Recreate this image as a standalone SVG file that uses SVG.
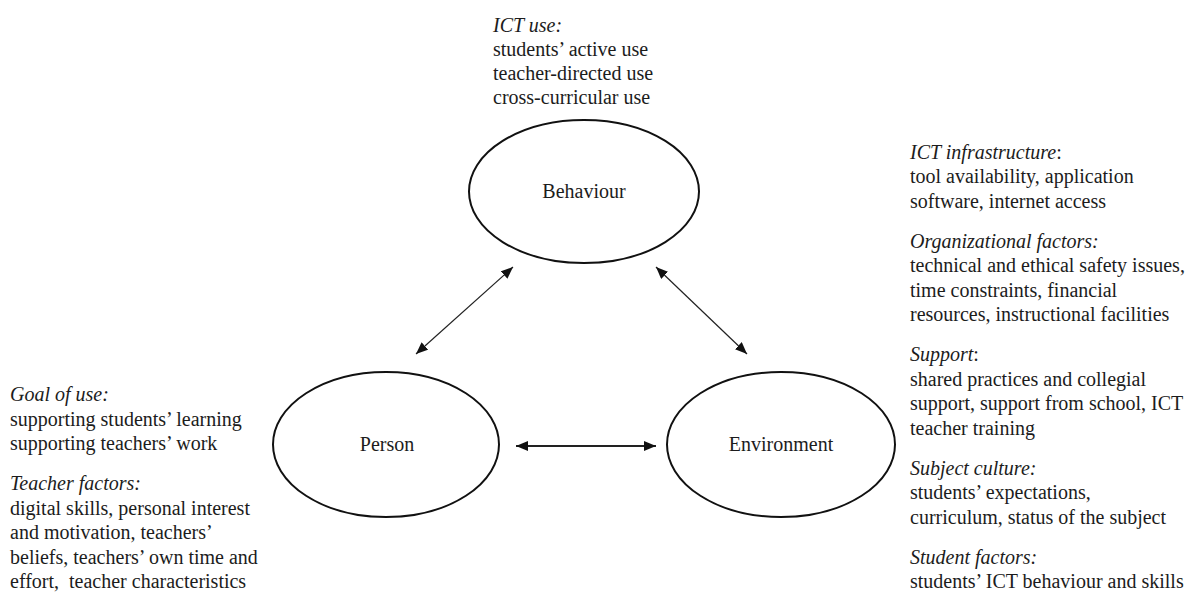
<svg xmlns="http://www.w3.org/2000/svg" width="1189" height="599" viewBox="0 0 1189 599">
  <defs>
    <marker id="ah" viewBox="0 0 12 10" refX="12" refY="5" markerWidth="12" markerHeight="10" markerUnits="userSpaceOnUse" orient="auto-start-reverse">
      <path d="M0,0 L12,5 L0,10 z" fill="#111"/>
    </marker>
    <style>
      text { font-family: "Liberation Serif", "Times New Roman", serif; font-size: 20px; fill: #1c1c1c; }
      .it { font-style: italic; }
      .node ellipse { fill: none; stroke: #111; stroke-width: 2; }
      .lbl { text-anchor: middle; }
      .conn line { stroke: #222; stroke-width: 1.2; marker-start: url(#ah); marker-end: url(#ah); }
    </style>
  </defs>
  <rect width="1189" height="599" fill="#ffffff"/>

  <g id="behaviour" class="node">
    <ellipse cx="584" cy="191.5" rx="115" ry="71.5"/>
    <text class="lbl" x="584" y="198">Behaviour</text>
  </g>
  <g id="person" class="node">
    <ellipse cx="386" cy="444.5" rx="113" ry="72.5"/>
    <text class="lbl" x="387" y="451">Person</text>
  </g>
  <g id="environment" class="node">
    <ellipse cx="781" cy="444.5" rx="114" ry="72.5"/>
    <text class="lbl" x="781" y="451">Environment</text>
  </g>

  <g id="connectors" class="conn">
    <line x1="416" y1="354" x2="513" y2="267"/>
    <line x1="656" y1="267" x2="747" y2="354"/>
    <line x1="516" y1="446" x2="656" y2="446" style="stroke-width:1.8"/>
  </g>

  <g id="ict-use">
    <text class="it" x="493" y="32">ICT use:</text>
    <text x="493" y="56">students’ active use</text>
    <text x="493" y="80">teacher-directed use</text>
    <text x="493" y="104">cross-curricular use</text>
  </g>

  <g id="person-factors">
    <text class="it" x="10" y="401">Goal of use:</text>
    <text x="10" y="425.5">supporting students’ learning</text>
    <text x="10" y="450">supporting teachers’ work</text>
    <text class="it" x="10" y="490">Teacher factors:</text>
    <text x="10" y="514.5">digital skills, personal interest</text>
    <text x="10" y="539">and motivation, teachers’</text>
    <text x="10" y="563.5">beliefs, teachers’ own time and</text>
    <text x="10" y="588" xml:space="preserve">effort,  teacher characteristics</text>
  </g>

  <g id="environment-factors">
    <text x="910" y="158.5"><tspan class="it">ICT infrastructure</tspan>:</text>
    <text x="910" y="183">tool availability, application</text>
    <text x="910" y="207.5">software, internet access</text>
    <text class="it" x="910" y="247.5">Organizational factors:</text>
    <text x="910" y="272">technical and ethical safety issues,</text>
    <text x="910" y="296.5">time constraints, financial</text>
    <text x="910" y="321">resources, instructional facilities</text>
    <text x="910" y="361"><tspan class="it">Support</tspan>:</text>
    <text x="910" y="385.5">shared practices and collegial</text>
    <text x="910" y="410">support, support from school, ICT</text>
    <text x="910" y="434.5">teacher training</text>
    <text class="it" x="910" y="474.5">Subject culture:</text>
    <text x="910" y="499">students’ expectations,</text>
    <text x="910" y="523.5">curriculum, status of the subject</text>
    <text class="it" x="910" y="563.5">Student factors:</text>
    <text x="910" y="588">students’ ICT behaviour and skills</text>
  </g>
</svg>
